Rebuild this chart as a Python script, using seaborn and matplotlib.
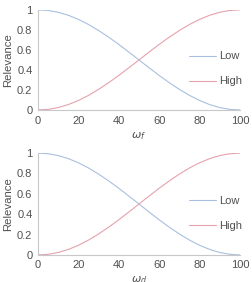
import seaborn as sns
import matplotlib.pyplot as plt
import matplotlib.ticker as mticker
import pandas as pd
import numpy as np

# values
omega = [0, 5, 10, 15, 20, 25, 30, 35, 40, 45, 50, 55, 60, 65, 70, 75, 80, 85, 90, 95, 100]
low = [1.0, 0.994, 0.976, 0.946, 0.905, 0.854, 0.794, 0.727, 0.655, 0.578, 0.5,
       0.422, 0.345, 0.273, 0.206, 0.146, 0.095, 0.054, 0.024, 0.006, 0.0]
high = [0.0, 0.006, 0.024, 0.054, 0.095, 0.146, 0.206, 0.273, 0.345, 0.422, 0.5,
        0.578, 0.655, 0.727, 0.794, 0.854, 0.905, 0.946, 0.976, 0.994, 1.0]
xlabels = [r'$\omega_f$', r'$\omega_d$']

df = pd.DataFrame({'omega': omega * 2,
                   'relevance': low + high,
                   'level': ['Low'] * len(omega) + ['High'] * len(omega)})

sns.set_style('white')
plt.rcParams['font.family'] = ['Liberation Sans', 'DejaVu Sans']

fig = plt.figure(figsize=(2.52, 2.82), dpi=100)
positions = [[0.151, 0.61, 0.801, 0.355], [0.151, 0.096, 0.801, 0.361]]
palette = {'Low': '#a8c0e0', 'High': '#e5a2ac'}
txt = '#505050'

for pos, xl in zip(positions, xlabels):
    ax = fig.add_axes(pos)
    sns.lineplot(data=df, x='omega', y='relevance', hue='level', palette=palette,
                 linewidth=0.8, ax=ax)
    ax.set_xlim(0, 100)
    ax.set_ylim(0, 1)
    ax.set_xticks([0, 20, 40, 60, 80, 100])
    ax.set_yticks([0, 0.2, 0.4, 0.6, 0.8, 1])
    ax.yaxis.set_major_formatter(mticker.FuncFormatter(lambda v, p: '%g' % round(v, 1)))
    ax.tick_params(labelsize=8, colors=txt, length=0, pad=4)
    ax.set_xlabel(xl, fontsize=8, color=txt, labelpad=3)
    ax.set_ylabel('Relevance', fontsize=8.2, color=txt, labelpad=3)
    for s in ['top', 'right']:
        ax.spines[s].set_visible(False)
    for s in ['left', 'bottom']:
        ax.spines[s].set_color('#c8c8c8')
        ax.spines[s].set_linewidth(0.8)
    ax.legend(title=None, frameon=False, fontsize=8, loc='center left',
              bbox_to_anchor=(0.7, 0.41), labelspacing=1.35, handlelength=2.4,
              handletextpad=0.3, labelcolor=txt)

fig.savefig('out.png', dpi=100)
